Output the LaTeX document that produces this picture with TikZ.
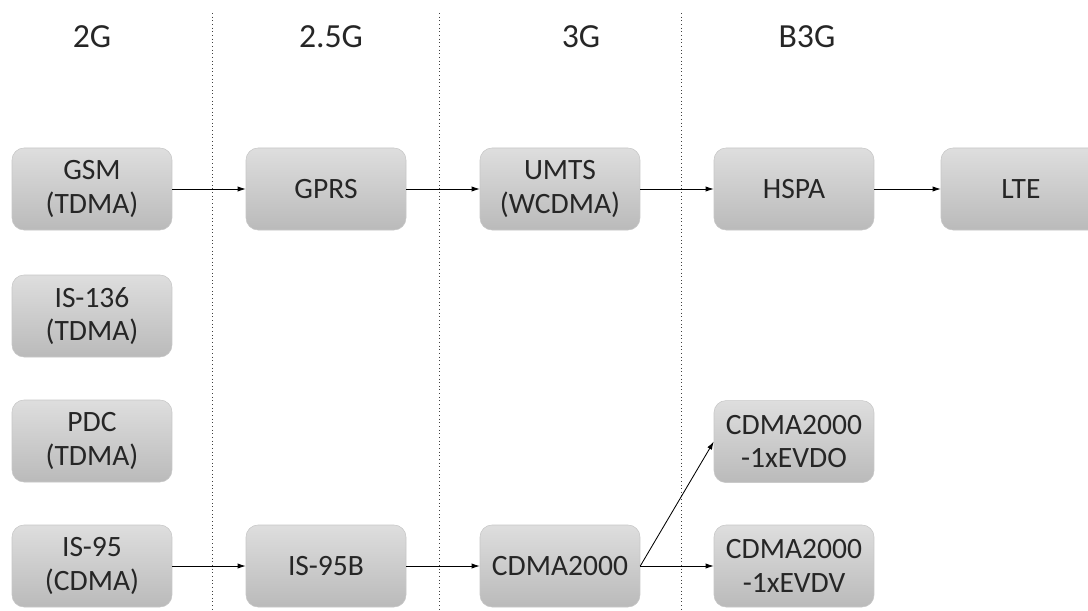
\documentclass[tikz,border=0pt]{standalone}
\usepackage{fontspec}
\setmainfont{Carlito}
\usetikzlibrary{arrows.meta, positioning}

\begin{document}
\begin{tikzpicture}[
    tech/.style={rectangle, rounded corners=0.3cm, draw=black!22,
        top color=black!13, bottom color=black!27,
        minimum width=4cm, minimum height=2.05cm, align=center,
        font=\fontsize{21}{24}\selectfont, text=black!85},
    gen/.style={font=\fontsize{24}{28}\selectfont, text=black!85},
    sep/.style={dotted, line width=0.6pt, black!75},
    arrow/.style={-{Latex[length=2mm, width=1.3mm]}, line width=0.6pt},
]
    \useasboundingbox (0,0) rectangle (27.2,-15.275);

    % Generation headers
    \foreach \x/\name/\label in {
        2.3/g2/2G, 8.275/g25/2.5G, 14.525/g3/3G, 20.175/b3g/B3G}
    {
        \node[gen] (\name) at (\x, -0.925) {\label};
    }

    % Dotted separators between generations
    \foreach \x/\name in {5.3/s1, 10.975/s2, 17.025/s3}
    {
        \coordinate (\name top) at (\x, -0.325);
        \coordinate (\name bot) at (\x, -15.3);
        \draw[sep] (\name top) -- (\name bot);
    }

    % 2G systems
    \node[tech] (gsm) at (2.3, -4.725) {GSM\\(TDMA)};
    \node[tech] (is136) at (2.3, -7.9) {IS-136\\(TDMA)};
    \node[tech] (pdc) at (2.3, -11.025) {PDC\\(TDMA)};
    \node[tech] (is95) at (2.3, -14.15) {IS-95\\(CDMA)};

    % GSM path
    \node[tech] (gprs) at (8.15, -4.725) {GPRS};
    \node[tech] (umts) at (14.0, -4.725) {UMTS\\(WCDMA)};
    \node[tech] (hspa) at (19.85, -4.725) {HSPA};
    \node[tech] (lte) at (25.525, -4.725) {LTE};

    % CDMA path
    \node[tech] (is95b) at (8.15, -14.15) {IS-95B};
    \node[tech] (cdma) at (14.0, -14.15) {CDMA2000};
    \node[tech] (evdo) at (19.85, -11.04) {CDMA2000\\-1xEVDO};
    \node[tech] (evdv) at (19.85, -14.15) {CDMA2000\\-1xEVDV};

    % Evolution arrows
    \foreach \a/\b in {gsm/gprs, gprs/umts, umts/hspa, hspa/lte,
        is95/is95b, is95b/cdma, cdma/evdv}
    {
        \draw[arrow] (\a) -- (\b);
    }
    \draw[arrow] (cdma.east) -- (evdo.west);
\end{tikzpicture}
\end{document}
